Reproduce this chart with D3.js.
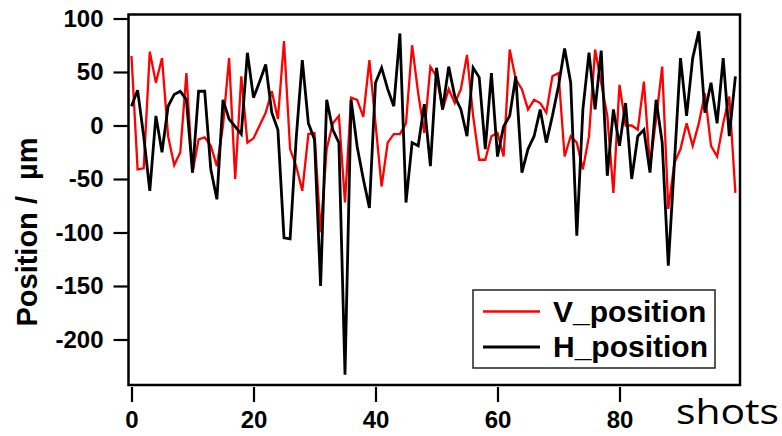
<!DOCTYPE html>
<html>
<head>
<meta charset="utf-8">
</head>
<body style="margin:0;background:#fff;">
<style>
    path.trace {
        fill: none;
        stroke-linejoin: miter;
    }
    .axis text {
        font-family: "Liberation Sans", Arial, sans-serif;
        font-weight: bold;
        font-size: 24px;
        fill: #000;
    }
    .axis line {
        stroke: #000;
        stroke-width: 2.2px;
    }
</style>
<script src="https://cdn.jsdelivr.net/npm/d3@7"></script>
<script>

    // shot number 0..99
    var shots = d3.range(100);

    var vPosition = [65, -41, -40, 69, 40, 63, -10, -37, -25, 49,
        -44, -13, -11, -19, -38, 0, 63, -50, 46, -16,
        -12, 0, 12, 32, 6, 79, -22, -38, -61, -8,
        -7, -100, -22, 2, 9, -72, 26, 24, 8, 61,
        2, -57, -16, -8, -8, 2, 75, 30, -7, 55,
        46, 15, 34, 21, 34, 66, 9, -32, -32, -10,
        -7, -29, 71, 43, 34, 15, 24, 21, 12, 46,
        49, -29, -10, -16, -41, -10, 71, 40, 9, -63,
        38, 0, 0, -4, 41, -38, 6, 55, -78, -35,
        -22, 2, -19, 2, 30, -19, -29, 2, 27, -63];

    var hPosition = [18, 33, -10, -61, 9, -25, 18, 29, 32, 24,
        -44, 32, 32, -41, -69, 24, 6, -1, -8, 68,
        26, 41, 57, 12, -4, -105, -106, -12, 61, 2,
        -13, -150, 24, -4, -16, -233, 24, -20, -50, -77,
        40, 54, 34, 18, 86, -72, -16, -19, 20, -38,
        54, 15, 55, 27, 15, -10, 54, 45, -22, 49,
        -29, -1, 9, 46, -44, -22, -10, 15, -16, 9,
        37, 72, 40, -103, 15, 68, 15, 70, -47, 15,
        -19, 21, -50, -10, -4, -44, 24, -16, -131, -35,
        63, 9, 63, 88, 12, 40, 2, 63, -10, 46];

    var xTicks = [0, 20, 40, 60, 80];
    var yTicks = [100, 50, 0, -50, -100, -150, -200];

    var width = 782;
    var height = 436;
    var frame = {left: 128.5, right: 740, top: 14.5, bottom: 385};

    var svg = d3.select("body").append("svg")
        .attr("width", width)
        .attr("height", height);

    var x = d3.scaleLinear().domain([0, 100]).range([131.5, 741.5]);
    var y = d3.scaleLinear().domain([-200, 100]).range([339.5, 18.5]);

    var line = d3.line()
        .x(function (d, i) { return x(shots[i]); })
        .y(function (d) { return y(d); });

    svg.append("path")
        .attr("class", "trace")
        .attr("d", line(vPosition))
        .style("stroke", "#ff0000")
        .style("stroke-width", 2.3);

    svg.append("path")
        .attr("class", "trace")
        .attr("d", line(hPosition))
        .style("stroke", "#000")
        .style("stroke-width", 2.8);

    // frame
    svg.append("rect")
        .attr("x", frame.left)
        .attr("y", frame.top)
        .attr("width", frame.right - frame.left)
        .attr("height", frame.bottom - frame.top)
        .style("fill", "none")
        .style("stroke", "#000")
        .style("stroke-width", 2.5);

    // plain hyphen minus, like the original
    var plain = function (d) { return String(d); };

    var yAxis = svg.append("g")
        .attr("class", "axis")
        .attr("transform", "translate(" + frame.left + ",0)")
        .call(d3.axisLeft(y).tickValues(yTicks).tickFormat(plain).tickSize(15).tickPadding(10));
    yAxis.select(".domain").remove();

    var xAxis = svg.append("g")
        .attr("class", "axis")
        .attr("transform", "translate(0,387)")
        .call(d3.axisBottom(x).tickValues(xTicks).tickFormat(plain).tickSize(15).tickPadding(9));
    xAxis.select(".domain").remove();

    svg.append("text")
        .attr("transform", "translate(37,232) rotate(-90)")
        .attr("text-anchor", "middle")
        .style("font-family", "Liberation Sans, Arial, sans-serif")
        .style("font-weight", "bold")
        .style("font-size", "29px")
        .style("white-space", "pre")
        .text("Position /  \u00b5m");

    svg.append("text")
        .attr("x", 676)
        .attr("y", 424)
        .attr("textLength", 103)
        .attr("lengthAdjust", "spacingAndGlyphs")
        .style("font-family", "Open Sans, sans-serif")
        .style("font-size", "35px")
        .text("shots");

    // legend
    var legend = svg.append("g");
    legend.append("rect")
        .attr("x", 473)
        .attr("y", 290)
        .attr("width", 242)
        .attr("height", 78)
        .style("fill", "#fff")
        .style("stroke", "#222")
        .style("stroke-width", 1.5);

    var items = [
        {name: "V_position", color: "#ff0000", w: 2.3},
        {name: "H_position", color: "#000", w: 2.8}
    ];
    items.forEach(function (it, i) {
        var yy = 311.5 + i * 35.5;
        legend.append("line")
            .attr("x1", 483).attr("x2", 540)
            .attr("y1", yy).attr("y2", yy)
            .style("stroke", it.color)
            .style("stroke-width", it.w);
        legend.append("text")
            .attr("x", 553)
            .attr("y", yy + 10)
            .style("font-family", "Liberation Sans, Arial, sans-serif")
            .style("font-weight", "bold")
            .style("font-size", "30px")
            .text(it.name);
    });

</script>
</body>
</html>
